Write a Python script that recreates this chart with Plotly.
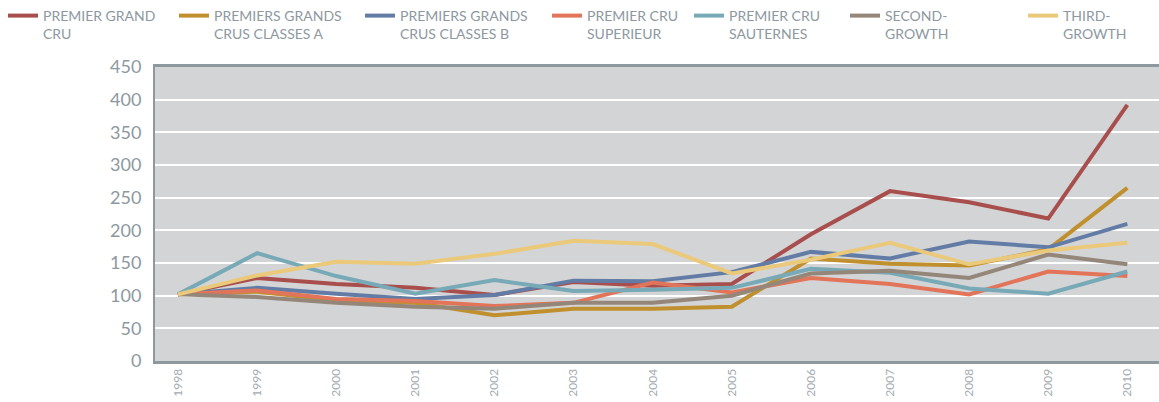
import plotly.graph_objects as go

years = [1998, 1999, 2000, 2001, 2002, 2003, 2004, 2005, 2006, 2007, 2008, 2009, 2010]
year_labels = [str(y) for y in years]

series_names = [
    "PREMIER GRAND<br>CRU",
    "PREMIERS GRANDS<br>CRUS CLASSES A",
    "PREMIERS GRANDS<br>CRUS CLASSES B",
    "PREMIER CRU<br>SUPERIEUR",
    "PREMIER CRU<br>SAUTERNES",
    "SECOND-<br>GROWTH",
    "THIRD-<br>GROWTH",
]

premier_grand_cru = [102, 127, 118, 112, 101, 121, 115, 118, 194, 260, 243, 218, 392]
classes_a = [102, 106, 93, 89, 70, 80, 80, 83, 157, 149, 146, 171, 265]
classes_b = [102, 112, 103, 95, 101, 123, 122, 136, 167, 157, 183, 174, 210]
premier_cru_superieur = [102, 108, 95, 92, 84, 89, 120, 105, 127, 118, 102, 137, 130]
premier_cru_sauternes = [102, 165, 130, 103, 124, 107, 109, 112, 141, 135, 111, 103, 137]
second_growth = [102, 98, 89, 83, 80, 89, 89, 100, 134, 138, 127, 163, 148]
third_growth = [102, 131, 152, 149, 164, 184, 179, 134, 155, 181, 148, 169, 181]

values = [premier_grand_cru, classes_a, classes_b, premier_cru_superieur,
          premier_cru_sauternes, second_growth, third_growth]
colors = ["#a84e4c", "#c0902f", "#637ca5", "#e17459", "#77a9b7", "#948779", "#ebc97b"]

# legend line start positions (px from left of 1159 canvas)
legend_px = [8, 179, 365, 552, 694, 850, 1028]

W, H = 1159, 402
gray = "#8d989f"

fig = go.Figure()
for i, (name, vals, col) in enumerate(zip(series_names, values, colors)):
    lg = "legend" if i == 0 else f"legend{i+1}"
    fig.add_trace(go.Scatter(
        x=list(range(len(years))), y=vals, mode="lines", name=name,
        line=dict(color=col, width=4), legend=lg,
    ))

layout_legends = {}
for i, px in enumerate(legend_px):
    key = "legend" if i == 0 else f"legend{i+1}"
    layout_legends[key] = dict(
        x=(px - 5) / W, y=1 - 0 / H, xref="container", yref="container",
        xanchor="left", yanchor="top", bgcolor="rgba(0,0,0,0)",
        font=dict(family="Lato", size=14, color=gray),
        itemwidth=30, tracegroupgap=0, valign="top",
    )

fig.update_layout(
    width=W, height=H,
    margin=dict(l=155, r=0, t=67, b=41, autoexpand=False),
    paper_bgcolor="white", plot_bgcolor="#d3d4d6",
    showlegend=True,
    **layout_legends,
)

fig.update_xaxes(
    tickmode="array", tickvals=list(range(len(years))), ticktext=year_labels,
    range=[-0.29, 12.4], tickangle=-90, showgrid=False, zeroline=False,
    tickfont=dict(family="Lato", size=12, color="#a3acb1"),
    showline=True, linecolor="#8e999f", linewidth=3, mirror=True,
    ticks="", ticklen=0, automargin=False,
)
fig.update_yaxes(
    range=[0, 450], tickvals=[0, 50, 100, 150, 200, 250, 300, 350, 400, 450],
    showgrid=True, gridcolor="white", gridwidth=1.5, zeroline=False,
    tickfont=dict(family="Lato", size=18, color=gray),
    showline=True, linecolor="#8e999f", linewidth=2, mirror=True,
    ticks="", ticklabelstandoff=8, automargin=False,
)

fig.write_html("out.html",
               config={"displayModeBar": False},
               post_script="document.body.style.margin='0';document.body.style.padding='0';")
